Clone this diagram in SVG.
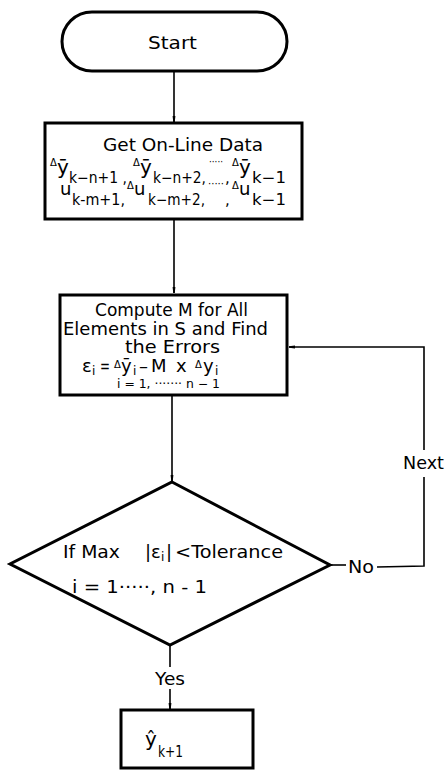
<svg xmlns="http://www.w3.org/2000/svg" width="445" height="772" viewBox="0 0 445 772">
<style>
.shape{fill:#fff;stroke:#000;stroke-width:3}
.conn{fill:none;stroke:#000;stroke-width:1.6}
text{font-family:"DejaVu Sans","Liberation Sans",sans-serif;fill:#000}
.t{font-size:18px}
.y{font-size:20px}
.b{font-size:15px}
.s{font-size:12px}
.d{font-size:10px}
</style>
<defs>
<marker id="ah" viewBox="0 0 6 4" refX="6" refY="2" markerWidth="6" markerHeight="4" markerUnits="userSpaceOnUse" orient="auto">
<path d="M0,0.6 L6,1.3 L6,2.7 L0,3.4 Z" fill="#000"/>
</marker>
</defs>
<g id="connectors">
<line class="conn" x1="174" y1="71" x2="174" y2="122" marker-end="url(#ah)"/>
<line class="conn" x1="174" y1="219" x2="174" y2="293" marker-end="url(#ah)"/>
<line class="conn" x1="172" y1="396" x2="172" y2="481" marker-end="url(#ah)"/>
<line class="conn" x1="170" y1="645" x2="170" y2="667"/>
<line class="conn" x1="170" y1="689" x2="170" y2="709" marker-end="url(#ah)"/>
<line class="conn" x1="330" y1="565" x2="346" y2="565"/>
<polyline class="conn" points="377,567 424,566 424,477"/>
<polyline class="conn" points="424,450 424,347 289,347" marker-end="url(#ah)"/>
<text class="t" x="403" y="469" textLength="41" lengthAdjust="spacingAndGlyphs">Next</text>
<text class="t" x="348" y="573" textLength="26" lengthAdjust="spacingAndGlyphs">No</text>
<text class="t" x="155" y="685" textLength="30" lengthAdjust="spacingAndGlyphs">Yes</text>
</g>
<g id="start">
<path class="shape" d="M92,12 L257,12 A30,29.5 0 0 1 257,71 L92,71 A30,29.5 0 0 1 92,12 Z"/>
<text class="t" x="148" y="49" textLength="49" lengthAdjust="spacingAndGlyphs">Start</text>
</g>
<g id="getdata">
<rect class="shape" x="45" y="123" width="257" height="96"/>
<text class="t" x="103" y="151" textLength="160" lengthAdjust="spacingAndGlyphs">Get On-Line Data</text>
<text class="d" x="50" y="166">Δ</text>
<text class="y" x="57" y="174">ȳ</text>
<text class="b" x="69" y="183" textLength="58" lengthAdjust="spacingAndGlyphs">k−n+1 ,</text>
<text class="d" x="133" y="166">Δ</text>
<text class="y" x="140" y="174">ȳ</text>
<text class="b" x="153" y="183" textLength="53" lengthAdjust="spacingAndGlyphs">k−n+2,</text>
<text class="d" x="209" y="165" textLength="14" lengthAdjust="spacingAndGlyphs">·····</text>
<text class="b" x="225" y="183">,</text>
<text class="d" x="232" y="166">Δ</text>
<text class="y" x="239" y="174">ȳ</text>
<text class="b" x="252" y="183" textLength="34" lengthAdjust="spacingAndGlyphs">k−1</text>
<text class="t" x="60" y="195">u</text>
<text class="b" x="72" y="205" textLength="53" lengthAdjust="spacingAndGlyphs">k-m+1,</text>
<text class="d" x="127" y="189">Δ</text>
<text class="t" x="134" y="195">u</text>
<text class="b" x="148" y="205" textLength="57" lengthAdjust="spacingAndGlyphs">k−m+2,</text>
<text class="d" x="208" y="187" textLength="16" lengthAdjust="spacingAndGlyphs">·····</text>
<text class="b" x="225" y="205">,</text>
<text class="d" x="232" y="189">Δ</text>
<text class="t" x="239" y="195">u</text>
<text class="b" x="252" y="205" textLength="34" lengthAdjust="spacingAndGlyphs">k−1</text>
</g>
<g id="compute">
<rect class="shape" x="60" y="295" width="227" height="100"/>
<text class="t" x="95" y="316" textLength="153" lengthAdjust="spacingAndGlyphs">Compute M for All</text>
<text class="t" x="63" y="335" textLength="205" lengthAdjust="spacingAndGlyphs">Elements in S and Find</text>
<text class="t" x="125" y="353" textLength="95" lengthAdjust="spacingAndGlyphs">the Errors</text>
<text class="t" x="82" y="372">ε</text>
<text class="s" x="92" y="375">i</text>
<text class="t" x="100" y="372" textLength="10" lengthAdjust="spacingAndGlyphs">=</text>
<text class="d" x="114" y="368">Δ</text>
<text class="t" x="121" y="372">ȳ</text>
<text class="s" x="133" y="375">i</text>
<text class="t" x="139" y="372" textLength="9" lengthAdjust="spacingAndGlyphs">–</text>
<text class="t" x="151" y="372">M</text>
<text class="t" x="176" y="372">x</text>
<text class="d" x="195" y="368">Δ</text>
<text class="t" x="203" y="372">y</text>
<text class="s" x="215" y="375">i</text>
<text class="s" x="117" y="388" textLength="103" lengthAdjust="spacingAndGlyphs">i = 1, ······· n − 1</text>
</g>
<g id="decision">
<polygon class="shape" points="172,482 330,565 170,645 10,564"/>
<text class="t" x="63" y="558" textLength="57" lengthAdjust="spacingAndGlyphs">If Max</text>
<text class="t" x="145" y="558">|ε</text>
<text class="s" x="161" y="561">i</text>
<text class="t" x="166" y="558">|</text>
<text class="t" x="175" y="558" textLength="108" lengthAdjust="spacingAndGlyphs">&lt;Tolerance</text>
<text class="t" x="72" y="593" textLength="135" lengthAdjust="spacingAndGlyphs">i = 1·····, n - 1</text>
</g>
<g id="output">
<rect class="shape" x="121" y="710" width="132" height="58"/>
<text class="y" x="145" y="746">ŷ</text>
<text class="b" x="158" y="757" textLength="25" lengthAdjust="spacingAndGlyphs">k+1</text>
</g>
</svg>
